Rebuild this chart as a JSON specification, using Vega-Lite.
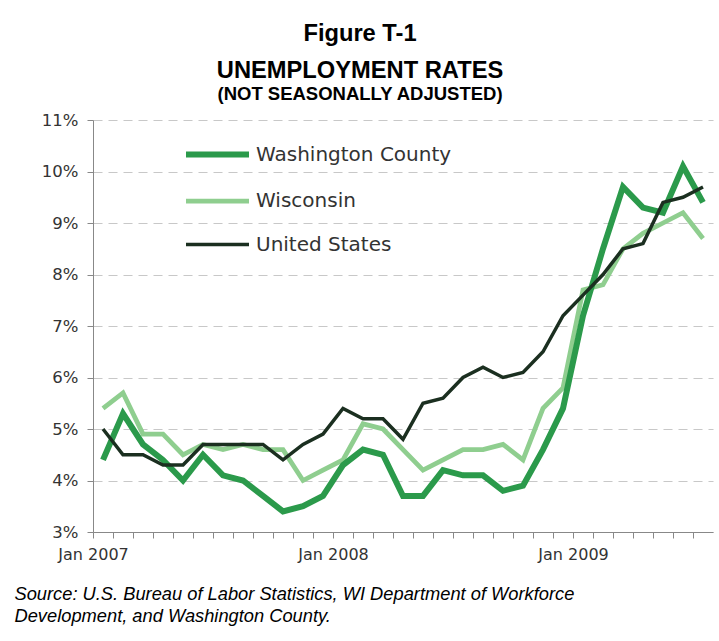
{
  "$schema": "https://vega.github.io/schema/vega-lite/v6.json",
  "width": 620,
  "height": 412,
  "autosize": {"type": "none"},
  "padding": {"left": 93, "top": 120, "right": 6, "bottom": 109},
  "background": "white",
  "title": {
    "text": ["Figure T-1", "UNEMPLOYMENT RATES"],
    "subtitle": "(NOT SEASONALLY ADJUSTED)",
    "font": "Liberation Sans",
    "fontSize": 23.7,
    "fontWeight": "bold",
    "lineHeight": 37,
    "color": "black",
    "subtitleFont": "Liberation Sans",
    "subtitleFontSize": 18.5,
    "subtitleFontWeight": "bold",
    "subtitleColor": "black",
    "subtitlePadding": 2,
    "anchor": "middle",
    "dx": -43,
    "offset": 9
  },
  "data": {
    "values": [
      {"month": "Jan 2007", "series": "Wisconsin", "rate": 5.4},
      {"month": "Feb 2007", "series": "Wisconsin", "rate": 5.7},
      {"month": "Mar 2007", "series": "Wisconsin", "rate": 4.9},
      {"month": "Apr 2007", "series": "Wisconsin", "rate": 4.9},
      {"month": "May 2007", "series": "Wisconsin", "rate": 4.5},
      {"month": "Jun 2007", "series": "Wisconsin", "rate": 4.7},
      {"month": "Jul 2007", "series": "Wisconsin", "rate": 4.6},
      {"month": "Aug 2007", "series": "Wisconsin", "rate": 4.7},
      {"month": "Sep 2007", "series": "Wisconsin", "rate": 4.6},
      {"month": "Oct 2007", "series": "Wisconsin", "rate": 4.6},
      {"month": "Nov 2007", "series": "Wisconsin", "rate": 4.0},
      {"month": "Dec 2007", "series": "Wisconsin", "rate": 4.2},
      {"month": "Jan 2008", "series": "Wisconsin", "rate": 4.4},
      {"month": "Feb 2008", "series": "Wisconsin", "rate": 5.1},
      {"month": "Mar 2008", "series": "Wisconsin", "rate": 5.0},
      {"month": "Apr 2008", "series": "Wisconsin", "rate": 4.6},
      {"month": "May 2008", "series": "Wisconsin", "rate": 4.2},
      {"month": "Jun 2008", "series": "Wisconsin", "rate": 4.4},
      {"month": "Jul 2008", "series": "Wisconsin", "rate": 4.6},
      {"month": "Aug 2008", "series": "Wisconsin", "rate": 4.6},
      {"month": "Sep 2008", "series": "Wisconsin", "rate": 4.7},
      {"month": "Oct 2008", "series": "Wisconsin", "rate": 4.4},
      {"month": "Nov 2008", "series": "Wisconsin", "rate": 5.4},
      {"month": "Dec 2008", "series": "Wisconsin", "rate": 5.8},
      {"month": "Jan 2009", "series": "Wisconsin", "rate": 7.7},
      {"month": "Feb 2009", "series": "Wisconsin", "rate": 7.8},
      {"month": "Mar 2009", "series": "Wisconsin", "rate": 8.5},
      {"month": "Apr 2009", "series": "Wisconsin", "rate": 8.8},
      {"month": "May 2009", "series": "Wisconsin", "rate": 9.0},
      {"month": "Jun 2009", "series": "Wisconsin", "rate": 9.2},
      {"month": "Jul 2009", "series": "Wisconsin", "rate": 8.7},
      {"month": "Jan 2007", "series": "Washington County", "rate": 4.4},
      {"month": "Feb 2007", "series": "Washington County", "rate": 5.3},
      {"month": "Mar 2007", "series": "Washington County", "rate": 4.7},
      {"month": "Apr 2007", "series": "Washington County", "rate": 4.4},
      {"month": "May 2007", "series": "Washington County", "rate": 4.0},
      {"month": "Jun 2007", "series": "Washington County", "rate": 4.5},
      {"month": "Jul 2007", "series": "Washington County", "rate": 4.1},
      {"month": "Aug 2007", "series": "Washington County", "rate": 4.0},
      {"month": "Sep 2007", "series": "Washington County", "rate": 3.7},
      {"month": "Oct 2007", "series": "Washington County", "rate": 3.4},
      {"month": "Nov 2007", "series": "Washington County", "rate": 3.5},
      {"month": "Dec 2007", "series": "Washington County", "rate": 3.7},
      {"month": "Jan 2008", "series": "Washington County", "rate": 4.3},
      {"month": "Feb 2008", "series": "Washington County", "rate": 4.6},
      {"month": "Mar 2008", "series": "Washington County", "rate": 4.5},
      {"month": "Apr 2008", "series": "Washington County", "rate": 3.7},
      {"month": "May 2008", "series": "Washington County", "rate": 3.7},
      {"month": "Jun 2008", "series": "Washington County", "rate": 4.2},
      {"month": "Jul 2008", "series": "Washington County", "rate": 4.1},
      {"month": "Aug 2008", "series": "Washington County", "rate": 4.1},
      {"month": "Sep 2008", "series": "Washington County", "rate": 3.8},
      {"month": "Oct 2008", "series": "Washington County", "rate": 3.9},
      {"month": "Nov 2008", "series": "Washington County", "rate": 4.6},
      {"month": "Dec 2008", "series": "Washington County", "rate": 5.4},
      {"month": "Jan 2009", "series": "Washington County", "rate": 7.2},
      {"month": "Feb 2009", "series": "Washington County", "rate": 8.5},
      {"month": "Mar 2009", "series": "Washington County", "rate": 9.7},
      {"month": "Apr 2009", "series": "Washington County", "rate": 9.3},
      {"month": "May 2009", "series": "Washington County", "rate": 9.2},
      {"month": "Jun 2009", "series": "Washington County", "rate": 10.1},
      {"month": "Jul 2009", "series": "Washington County", "rate": 9.4},
      {"month": "Jan 2007", "series": "United States", "rate": 5.0},
      {"month": "Feb 2007", "series": "United States", "rate": 4.5},
      {"month": "Mar 2007", "series": "United States", "rate": 4.5},
      {"month": "Apr 2007", "series": "United States", "rate": 4.3},
      {"month": "May 2007", "series": "United States", "rate": 4.3},
      {"month": "Jun 2007", "series": "United States", "rate": 4.7},
      {"month": "Jul 2007", "series": "United States", "rate": 4.7},
      {"month": "Aug 2007", "series": "United States", "rate": 4.7},
      {"month": "Sep 2007", "series": "United States", "rate": 4.7},
      {"month": "Oct 2007", "series": "United States", "rate": 4.4},
      {"month": "Nov 2007", "series": "United States", "rate": 4.7},
      {"month": "Dec 2007", "series": "United States", "rate": 4.9},
      {"month": "Jan 2008", "series": "United States", "rate": 5.4},
      {"month": "Feb 2008", "series": "United States", "rate": 5.2},
      {"month": "Mar 2008", "series": "United States", "rate": 5.2},
      {"month": "Apr 2008", "series": "United States", "rate": 4.8},
      {"month": "May 2008", "series": "United States", "rate": 5.5},
      {"month": "Jun 2008", "series": "United States", "rate": 5.6},
      {"month": "Jul 2008", "series": "United States", "rate": 6.0},
      {"month": "Aug 2008", "series": "United States", "rate": 6.2},
      {"month": "Sep 2008", "series": "United States", "rate": 6.0},
      {"month": "Oct 2008", "series": "United States", "rate": 6.1},
      {"month": "Nov 2008", "series": "United States", "rate": 6.5},
      {"month": "Dec 2008", "series": "United States", "rate": 7.2},
      {"month": "Jan 2009", "series": "United States", "rate": 7.6},
      {"month": "Feb 2009", "series": "United States", "rate": 8.0},
      {"month": "Mar 2009", "series": "United States", "rate": 8.5},
      {"month": "Apr 2009", "series": "United States", "rate": 8.6},
      {"month": "May 2009", "series": "United States", "rate": 9.4},
      {"month": "Jun 2009", "series": "United States", "rate": 9.5},
      {"month": "Jul 2009", "series": "United States", "rate": 9.7}
    ]
  },
  "mark": {"type": "line", "strokeJoin": "miter", "strokeCap": "butt"},
  "encoding": {
    "x": {
      "field": "month",
      "type": "ordinal",
      "sort": null,
      "scale": {"type": "point", "padding": 0.5},
      "axis": {
        "title": ["Source: U.S. Bureau of Labor Statistics, WI Department of Workforce", "Development, and Washington County."],
        "titleFont": "Liberation Sans",
        "titleFontStyle": "italic",
        "titleFontWeight": "normal",
        "titleFontSize": 18.3,
        "titleLineHeight": 22,
        "titleColor": "black",
        "titleAnchor": "start",
        "titleAlign": "left",
        "titleBaseline": "alphabetic",
        "titleX": -79,
        "titleY": 67,
        "labelAngle": 0,
        "labelExpr": "slice(datum.label,0,3)=='Jan' ? datum.label : ''",
        "labelOverlap": false,
        "labelFont": "DejaVu Sans",
        "labelFontSize": 16,
        "labelColor": "#333333",
        "labelPadding": 8,
        "tickOffset": -10,
        "tickSize": 6,
        "tickColor": "#888888",
        "domainColor": "#888888",
        "grid": false
      }
    },
    "y": {
      "field": "rate",
      "type": "quantitative",
      "scale": {"domain": [3, 11], "nice": false, "zero": false},
      "axis": {
        "title": null,
        "values": [3, 4, 5, 6, 7, 8, 9, 10, 11],
        "labelExpr": "datum.value + '%'",
        "labelFont": "DejaVu Sans",
        "labelFontSize": 16.5,
        "labelColor": "#333333",
        "labelPadding": 9,
        "tickSize": 6,
        "tickColor": "#888888",
        "domainColor": "#888888",
        "grid": true,
        "gridColor": "#c8c8c8",
        "gridDash": [9, 6],
        "gridWidth": 1.2
      }
    },
    "color": {
      "field": "series",
      "type": "nominal",
      "title": null,
      "scale": {"domain": ["Washington County", "Wisconsin", "United States"], "range": ["#2b9a4b", "#8fce8f", "#1b2f20"]}
    },
    "strokeWidth": {
      "field": "series",
      "type": "nominal",
      "title": null,
      "scale": {"domain": ["Washington County", "Wisconsin", "United States"], "range": [6, 3.5, 4]}
    }
  },
  "config": {
    "view": {"stroke": null},
    "legend": {
      "orient": "none",
      "legendX": 90,
      "legendY": 0,
      "padding": 0,
      "symbolType": "stroke",
      "symbolSize": 3969,
      "labelFont": "DejaVu Sans",
      "labelFontSize": 20,
      "labelColor": "#333333",
      "labelOffset": 4,
      "rowPadding": -18,
      "labelLimit": 400
    }
  }
}
